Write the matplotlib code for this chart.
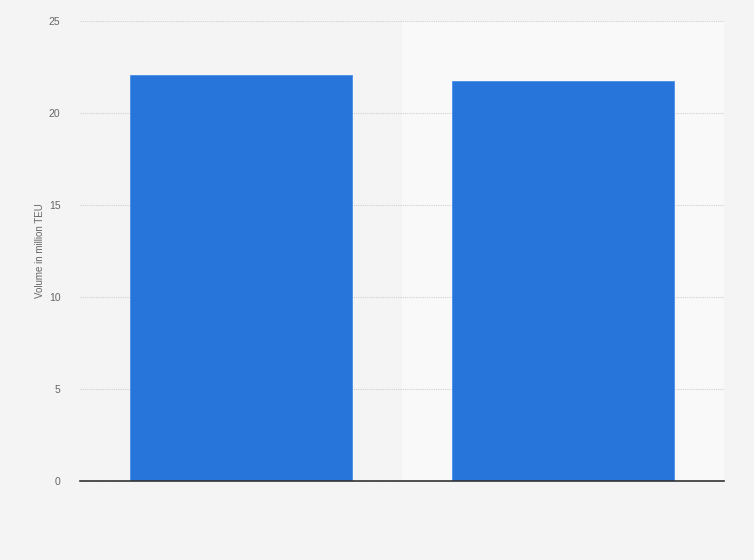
import matplotlib.pyplot as plt

plt.rcParams['font.family'] = ['Liberation Sans', 'DejaVu Sans']

# Datos del gráfico
categories = ['2019', '2020']
volumes = [22.05, 21.72]
y_ticks = [0, 5, 10, 15, 20, 25]

fig = plt.figure(figsize=(7.54, 5.60), dpi=100, facecolor='#f4f4f4')
ax = fig.add_axes([80 / 754, 1 - 481 / 560, 644 / 754, 460 / 560])
ax.set_facecolor('#f4f4f4')

x = list(range(len(categories)))

# Zona resaltada (segunda categoría)
ax.axvspan(0.5, 1.5, color='#f9f9f9', zorder=0, lw=0)

ax.bar(x, volumes, width=0.687, color='#2775db', edgecolor='#4a8ee6', linewidth=0.6, zorder=3)

ax.set_xlim(-0.5, 1.5)
ax.set_ylim(0, 25)
ax.set_yticks(y_ticks)
ax.set_xticks(x)
ax.set_xticklabels(['' for _ in categories])

ax.yaxis.grid(True, linestyle=(0, (1, 1)), color='#d0d0d0', linewidth=0.8, zorder=1)
ax.set_axisbelow(True)

for side in ['top', 'right', 'left']:
    ax.spines[side].set_visible(False)
ax.spines['bottom'].set_color('#333333')
ax.spines['bottom'].set_linewidth(1.2)
ax.spines['bottom'].set_zorder(4)

ax.tick_params(axis='y', length=0, labelsize=7.5, labelcolor='#666666', pad=14)
ax.tick_params(axis='x', length=0)

ax.set_ylabel('Volume in million TEU', fontsize=7, color='#666666')
ax.yaxis.set_label_coords(-35 / 644, 0.5)

fig.savefig('out.png', dpi=100, facecolor=fig.get_facecolor())
